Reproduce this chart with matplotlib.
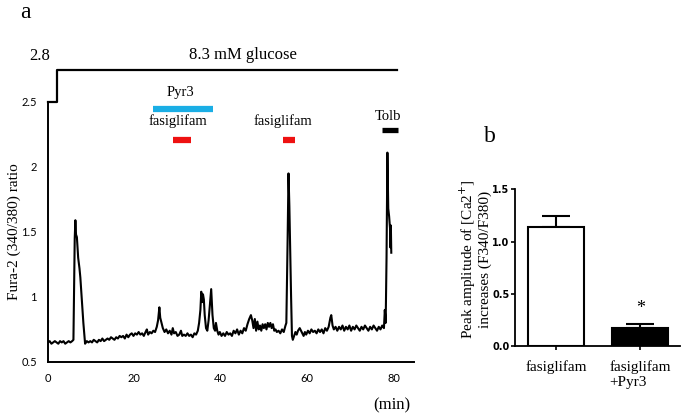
import numpy as np
import matplotlib
import matplotlib.pyplot as plt

matplotlib.use("Agg")

serif = "Liberation Serif"

# Fura-2 trace (time in min, 340/380 ratio)
time = [0, 0.4, 0.8, 1.2, 1.6, 2.0, 2.4, 2.8, 3.2, 3.6, 4.0, 4.4, 4.8, 5.2, 5.6,
        5.9, 6.2, 6.35, 6.5, 6.7, 7.0, 7.3, 7.5, 7.8, 8.2, 8.6,
        9.0, 9.4, 9.8, 10.2, 10.6, 11.0, 11.4, 11.8, 12.2, 12.6, 13.0, 13.4, 13.8, 14.2, 14.6,
        15.0, 15.4, 15.8, 16.2, 16.6, 17.0, 17.4, 17.8, 18.2, 18.6, 19.0, 19.4, 19.8, 20.2,
        20.6, 21.0, 21.4, 21.8, 22.2, 22.6, 22.9, 23.2, 23.6, 24.0, 24.4, 24.8, 25.2, 25.5,
        25.8, 26.0, 26.3, 26.6, 27.0, 27.4, 27.8, 28.2, 28.6, 28.9, 29.2, 29.6, 30.0, 30.4,
        30.8, 31.1, 31.5, 31.9, 32.3, 32.7, 33.1, 33.5, 33.9, 34.3, 34.7, 35.0, 35.3, 35.5,
        35.7, 35.9, 36.1, 36.3, 36.6, 36.9, 37.2, 37.5, 37.8, 38.1, 38.4, 38.7, 38.9, 39.2,
        39.5, 39.8, 40.2, 40.6, 41.0, 41.4, 41.8, 42.2, 42.6, 43.0, 43.4, 43.8, 44.2, 44.6,
        45.0, 45.4, 45.8, 46.2, 46.6, 47.0, 47.3, 47.6, 47.9, 48.2, 48.5, 48.8, 49.1, 49.4,
        49.7, 50.0, 50.3, 50.6, 50.9, 51.2, 51.5, 51.8, 52.1, 52.4, 52.7, 53.0, 53.4, 53.8,
        54.2, 54.6, 55.0, 55.2, 55.5, 55.7, 55.9, 56.1, 56.3, 56.5, 56.7, 57.0, 57.3, 57.6,
        57.9, 58.3, 58.6, 58.9, 59.2, 59.5, 59.8, 60.2, 60.6, 61.0, 61.4, 61.8, 62.2, 62.6,
        63.0, 63.4, 63.8, 64.2, 64.6, 65.0, 65.4, 65.6, 65.9, 66.2, 66.6, 67.0, 67.4, 67.8,
        68.2, 68.6, 69.0, 69.4, 69.8, 70.2, 70.6, 71.0, 71.4, 71.8, 72.2, 72.6, 73.0, 73.4,
        73.8, 74.2, 74.6, 75.0, 75.4, 75.8, 76.2, 76.6, 77.0, 77.4, 77.8, 78.0, 78.2, 78.4,
        78.6, 78.8, 79.0, 79.2, 79.3, 79.4, 79.5]
ratio = [0.65, 0.66, 0.64, 0.65, 0.66, 0.65, 0.64, 0.66, 0.65, 0.66, 0.64, 0.65, 0.66, 0.65, 0.66,
         0.67, 1.45, 1.59, 1.48, 1.46, 1.30, 1.22, 1.15, 1.00, 0.80, 0.64,
         0.66, 0.65, 0.66, 0.65, 0.67, 0.66, 0.65, 0.67, 0.66, 0.68, 0.66, 0.67, 0.68, 0.67, 0.69,
         0.68, 0.67, 0.69, 0.68, 0.70, 0.69, 0.70, 0.68, 0.71, 0.69, 0.71, 0.72, 0.70, 0.72,
         0.71, 0.73, 0.71, 0.72, 0.70, 0.73, 0.75, 0.71, 0.73, 0.72, 0.74, 0.73, 0.77, 0.82,
         0.92, 0.84, 0.80, 0.76, 0.73, 0.75, 0.72, 0.74, 0.71, 0.76, 0.72, 0.73, 0.70, 0.71,
         0.74, 0.70, 0.71, 0.70, 0.72, 0.70, 0.71, 0.69, 0.72, 0.71, 0.74, 0.80, 0.90, 1.04,
         0.96, 1.02, 0.98, 0.86, 0.76, 0.74, 0.82, 0.94, 1.06, 0.86, 0.76, 0.74, 0.80, 0.74,
         0.71, 0.73, 0.70, 0.72, 0.70, 0.73, 0.71, 0.72, 0.70, 0.74, 0.72, 0.75, 0.71, 0.74,
         0.72, 0.76, 0.74, 0.79, 0.83, 0.86, 0.82, 0.76, 0.83, 0.74, 0.81, 0.75, 0.78, 0.74,
         0.79, 0.76, 0.79, 0.75, 0.80, 0.77, 0.80, 0.76, 0.79, 0.74, 0.75, 0.73, 0.74, 0.72,
         0.75, 0.73, 0.78, 0.80, 1.45, 1.95, 1.70, 1.34, 1.00, 0.70, 0.67, 0.70, 0.73, 0.71,
         0.74, 0.76, 0.74, 0.72, 0.70, 0.73, 0.71, 0.74, 0.72, 0.75, 0.73, 0.74, 0.72, 0.75,
         0.73, 0.75, 0.72, 0.76, 0.74, 0.77, 0.84, 0.86, 0.78, 0.75, 0.77, 0.74, 0.77, 0.75,
         0.78, 0.74, 0.77, 0.75, 0.78, 0.74, 0.77, 0.75, 0.78, 0.76, 0.74, 0.77, 0.75, 0.78,
         0.76, 0.74, 0.77, 0.75, 0.78, 0.76, 0.74, 0.77, 0.75, 0.78, 0.76, 0.90, 0.80, 1.30,
         2.11, 1.68, 1.62, 1.53, 1.38, 1.55, 1.34]

# glucose step and drug application bars
glucose_t = [0, 2.1, 2.1, 80.9]
glucose_y = [2.5, 2.5, 2.746, 2.746]
pyr3_span = (24.3, 38.2)
fasi_spans = [(29.0, 33.2), (54.5, 57.2)]
tolb_span = (77.4, 81.1)

# panel b
groups = ["fasiglifam", "fasiglifam\n+Pyr3"]
peak_mean = [1.14, 0.17]
peak_sem = [0.10, 0.04]

fig = plt.figure(figsize=(6.85, 4.16), dpi=100)

### panel a ###
ax = fig.add_axes([0.070, 0.130, 0.534, 0.625])
ax.plot(time, ratio, color="black", lw=1.5)
ax.set_xlim(0, 84.7)
ax.set_ylim(0.5, 2.5)
ax.set_xticks([0, 20, 40, 60, 80])
ax.set_yticks([0.5, 1, 1.5, 2, 2.5])
ax.set_yticklabels(["0.5", "1", "1.5", "2", "2.5"])
ax.tick_params(length=0, labelsize=8, pad=8)
for lab in ax.get_xticklabels() + ax.get_yticklabels():
  lab.set_family("Lato")
ax.spines["top"].set_visible(False)
ax.spines["right"].set_visible(False)
for s in ("left", "bottom"):
  ax.spines[s].set_linewidth(1.4)

ax.plot(glucose_t, glucose_y, color="black", lw=1.6, clip_on=False)
ax.text(45.2, 2.86, "8.3 mM glucose", family=serif, fontsize=12, ha="center", va="center")
ax.text(-1.9, 2.85, "2.8", family=serif, fontsize=12, ha="center", va="center")

ax.plot(pyr3_span, [2.446, 2.446], color="#1aaee5", lw=4.5, solid_capstyle="butt", clip_on=False)
ax.text(30.6, 2.57, "Pyr3", family=serif, fontsize=10.5, ha="center", va="center")
ax.text(30.1, 2.35, "fasiglifam", family=serif, fontsize=10.5, ha="center", va="center")
ax.text(54.5, 2.35, "fasiglifam", family=serif, fontsize=10.5, ha="center", va="center")
for a, b in fasi_spans:
  ax.plot([a, b], [2.21, 2.21], color="#ee1111", lw=4.5, solid_capstyle="butt")
ax.plot(tolb_span, [2.285, 2.285], color="black", lw=3.8, solid_capstyle="butt", clip_on=False)
ax.text(78.8, 2.385, "Tolb", family=serif, fontsize=10.5, ha="center", va="center")

fig.text(14 / 685, 1 - 232 / 416, "Fura-2 (340/380) ratio", family=serif, fontsize=11,
         rotation=90, ha="center", va="center")
fig.text(392 / 685, 1 - 405 / 416, "(min)", family=serif, fontsize=12, ha="center", va="center")
fig.text(25 / 685, 1 - 12 / 416, "a", family=serif, fontsize=17, ha="center", va="center")

### panel b ###
bx = fig.add_axes([0.752, 0.168, 0.241, 0.377])
pos = np.arange(len(groups))
bx.bar(pos, peak_mean, width=0.667, color=["white", "black"], edgecolor="black", lw=1.5, zorder=2)
bx.errorbar(pos, peak_mean, yerr=[[0, 0], peak_sem], fmt="none", ecolor="black",
            elinewidth=1.5, capsize=10, capthick=1.5, zorder=1)
bx.set_xlim(-0.488, 1.476)
bx.set_ylim(0, 1.5)
bx.set_yticks([0, 0.5, 1.0, 1.5])
bx.set_yticklabels(["0.0", "0.5", "1.0", "1.5"])
bx.set_xticks(pos)
bx.set_xticklabels(groups, family=serif, fontsize=11, multialignment="left", va="top")
bx.tick_params(axis="x", length=3, width=1.2, pad=7)
bx.tick_params(axis="y", length=3, width=1.2, labelsize=7, pad=1)
for lab in bx.get_yticklabels():
  lab.set_family("Liberation Sans Narrow")
  lab.set_weight("bold")
bx.spines["top"].set_visible(False)
bx.spines["right"].set_visible(False)
for s in ("left", "bottom"):
  bx.spines[s].set_linewidth(1.3)
bx.text(1, 0.36, "*", family=serif, fontsize=13, ha="center", va="center")

fig.text(475 / 685, 1 - 259 / 416, "Peak amplitude of [Ca2$^{+}$]\nincreases (F340/F380)",
         family=serif, fontsize=11, rotation=90, ha="center", va="center", linespacing=1.1)
fig.text(490 / 685, 1 - 137 / 416, "b", family=serif, fontsize=17, ha="center", va="center")

plt.savefig("out.png", dpi=100)
